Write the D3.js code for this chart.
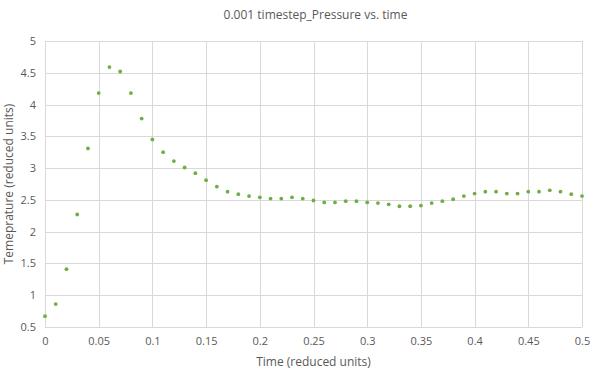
<!DOCTYPE html>
<svg width="604" height="376"></svg>
<script src="https://d3js.org/d3.v7.min.js"></script>
<style>
  body { margin: 0; background: #fff; }
  text { font-family: "Open Sans", sans-serif; fill: #595959; }
  .grid line { stroke: #d9d9d9; stroke-width: 1px; }
  .axis path, .axis line { display: none; }
</style>
<script>
// time (reduced units) and temperature readings
var times = [0, 0.01, 0.02, 0.03, 0.04, 0.05, 0.06, 0.07, 0.08, 0.09,
             0.1, 0.11, 0.12, 0.13, 0.14, 0.15, 0.16, 0.17, 0.18, 0.19,
             0.2, 0.21, 0.22, 0.23, 0.24, 0.25, 0.26, 0.27, 0.28, 0.29,
             0.3, 0.31, 0.32, 0.33, 0.34, 0.35, 0.36, 0.37, 0.38, 0.39,
             0.4, 0.41, 0.42, 0.43, 0.44, 0.45, 0.46, 0.47, 0.48, 0.49, 0.5];
var temps = [0.67, 0.86, 1.41, 2.27, 3.31, 4.18, 4.59, 4.52, 4.18, 3.78,
             3.45, 3.25, 3.11, 3.01, 2.92, 2.81, 2.71, 2.63, 2.59, 2.56,
             2.54, 2.52, 2.52, 2.54, 2.52, 2.49, 2.46, 2.46, 2.48, 2.48,
             2.46, 2.45, 2.43, 2.40, 2.40, 2.41, 2.45, 2.48, 2.51, 2.56,
             2.60, 2.63, 2.63, 2.60, 2.60, 2.63, 2.63, 2.65, 2.63, 2.59, 2.56];
var xTicks = d3.range(0, 11).map(function(i) { return i * 0.05; });
var yTicks = d3.range(0, 10).map(function(i) { return 0.5 + i * 0.5; });

var svg = d3.select("svg"),
    margin = {top: 41, right: 22, bottom: 49, left: 45},
    width = +svg.attr("width") - margin.left - margin.right,
    height = +svg.attr("height") - margin.top - margin.bottom,
    g = svg.append("g").attr("transform", "translate(" + margin.left + "," + margin.top + ")");

var x = d3.scaleLinear().domain([0, 0.5]).range([0, width]);
var y = d3.scaleLinear().domain([0.5, 5]).range([height, 0]);

// gridlines
g.append("g").attr("class", "grid")
  .selectAll("line").data(xTicks).enter().append("line")
    .attr("x1", function(d) { return Math.round(x(d)) + 0.5; })
    .attr("x2", function(d) { return Math.round(x(d)) + 0.5; })
    .attr("y1", 0).attr("y2", height);

g.append("g").attr("class", "grid")
  .selectAll("line").data(yTicks).enter().append("line")
    .attr("y1", function(d) { return Math.round(y(d)) + 0.5; })
    .attr("y2", function(d) { return Math.round(y(d)) + 0.5; })
    .attr("x1", 0).attr("x2", width);

g.append("g")
    .attr("class", "x axis")
    .attr("transform", "translate(0," + height + ")")
    .style("font-size", "11px")
    .call(d3.axisBottom(x).tickValues(xTicks).tickSize(0).tickPadding(10)
      .tickFormat(function(d) { return +d.toFixed(2) + ""; }))
    .selectAll("text").attr("fill", "#595959");

g.append("g")
    .attr("class", "y axis")
    .style("font-size", "11px")
    .call(d3.axisLeft(y).tickValues(yTicks).tickSize(0).tickPadding(9)
      .tickFormat(function(d) { return +d.toFixed(1) + ""; }))
    .selectAll("text").attr("fill", "#595959");

d3.selectAll(".axis text").style("font-family", "'Open Sans', sans-serif");

// points
g.append("g")
  .selectAll("circle")
  .data(times)
  .enter().append("circle")
    .attr("cx", function(d) { return x(d); })
    .attr("cy", function(d, i) { return y(temps[i]); })
    .attr("r", 1.9)
    .attr("fill", "#70ad47");

svg.append("text")
    .attr("x", margin.left + width / 2 + 2)
    .attr("y", 19)
    .attr("text-anchor", "middle")
    .style("font-size", "12px")
    .text("0.001 timestep_Pressure vs. time");

svg.append("text")
    .attr("x", margin.left + width / 2)
    .attr("y", 366)
    .attr("text-anchor", "middle")
    .style("font-size", "12px")
    .text("Time (reduced units)");

svg.append("text")
    .attr("transform", "translate(13," + (margin.top + height / 2) + ") rotate(-90)")
    .attr("text-anchor", "middle")
    .style("font-size", "12px")
    .text("Temeprature (reduced units)");
</script>
